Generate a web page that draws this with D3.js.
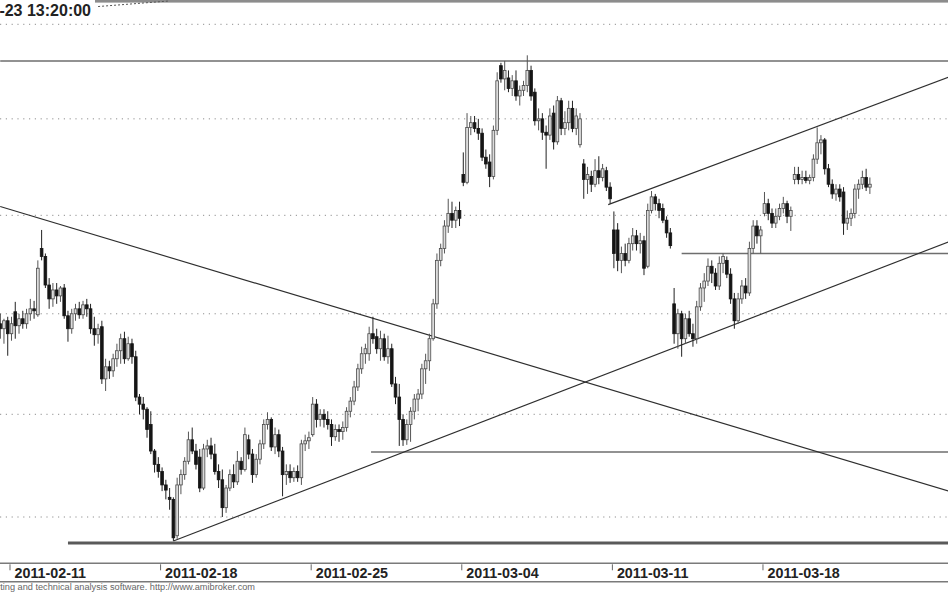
<!DOCTYPE html>
<html><head><meta charset="utf-8">
<script src="https://cdn.jsdelivr.net/npm/d3@7"></script>
<style>html,body{margin:0;padding:0;background:#fff;}svg{display:block}</style>
</head><body>
<script>
// ---------------- data ----------------
const title = "2011-03-23 13:20:00";
const footer = "AmiBroker - charting and technical analysis software. http://www.amibroker.com";
const days = ["2011-02-10","2011-02-11","2011-02-14","2011-02-15","2011-02-16","2011-02-17","2011-02-18",
  "2011-02-21","2011-02-22","2011-02-23","2011-02-24","2011-02-25","2011-02-28","2011-03-01","2011-03-02",
  "2011-03-03","2011-03-04","2011-03-07","2011-03-08","2011-03-09","2011-03-10","2011-03-11","2011-03-14",
  "2011-03-15","2011-03-16","2011-03-17","2011-03-18","2011-03-21","2011-03-22","2011-03-23"];
const tickLabels = ["2011-02-11","2011-02-18","2011-02-25","2011-03-04","2011-03-11","2011-03-18"];
const gridPrices = [46,47,48,49,50,51];
// [open, high, low, close]
const bars = [
[47.90,48.00,47.75,47.85],[47.85,47.95,47.70,47.93],[47.93,47.97,47.58,47.80],[47.80,47.97,47.73,47.90],
[48.02,48.12,47.75,47.88],[47.88,48.00,47.80,47.95],[47.95,48.03,47.85,47.90],[47.90,48.05,47.85,48.00],
[48.00,48.15,47.93,48.05],[48.05,48.13,47.95,48.03],[47.99,48.54,47.97,48.46],[48.66,48.85,48.54,48.58],
[48.58,48.61,48.26,48.29],[48.29,48.36,48.05,48.15],[48.15,48.31,48.07,48.24],[48.24,48.31,48.10,48.18],
[48.18,48.28,48.12,48.26],[48.26,48.30,47.95,47.98],[47.98,48.03,47.72,47.85],[47.85,48.05,47.80,48.00],
[48.00,48.10,47.93,48.05],[48.05,48.12,47.95,47.99],[47.99,48.13,47.95,48.09],[48.09,48.15,47.97,48.05],
[48.05,48.10,47.80,47.85],[47.85,47.97,47.68,47.79],[47.79,47.90,47.70,47.85],[47.87,47.93,47.30,47.35],
[47.35,47.55,47.23,47.47],[47.47,47.53,47.35,47.43],[47.43,47.60,47.37,47.55],[47.55,47.70,47.47,47.63],
[47.63,47.80,47.50,47.75],[47.75,47.82,47.50,47.55],[47.55,47.77,47.53,47.70],[47.70,47.75,47.50,47.57],
[47.57,47.63,47.13,47.17],[47.17,47.20,47.00,47.10],[47.10,47.17,46.95,47.05],[47.05,47.07,46.77,46.85],
[46.90,47.03,46.61,46.64],[46.64,46.66,46.43,46.51],[46.51,46.58,46.38,46.44],[46.44,46.48,46.25,46.31],
[46.31,46.36,46.17,46.26],[46.19,46.28,46.07,46.17],[46.17,46.19,45.77,45.80],[45.82,46.38,45.79,46.31],
[46.31,46.46,46.22,46.41],[46.41,46.58,46.36,46.54],[46.54,46.83,46.51,46.75],[46.75,46.87,46.61,46.64],
[46.64,46.71,46.46,46.51],[46.58,46.66,46.24,46.28],[46.28,46.71,46.26,46.66],[46.66,46.75,46.58,46.69],
[46.69,46.77,46.56,46.61],[46.61,46.71,46.41,46.44],[46.44,46.51,46.28,46.36],[46.36,46.46,46.00,46.09],
[46.09,46.31,46.04,46.28],[46.28,46.46,46.25,46.41],[46.41,46.51,46.28,46.34],[46.34,46.64,46.31,46.54],
[46.54,46.58,46.41,46.46],[46.46,46.87,46.44,46.80],[46.75,46.80,46.56,46.61],[46.61,46.66,46.33,46.41],
[46.41,46.61,46.38,46.56],[46.56,46.75,46.51,46.71],[46.71,46.95,46.66,46.90],[46.90,47.02,46.85,46.95],
[46.95,46.97,46.64,46.68],[46.68,46.87,46.61,46.80],[46.80,46.85,46.58,46.64],[46.64,46.68,46.20,46.41],
[46.41,46.51,46.31,46.44],[46.44,46.51,46.33,46.38],[46.38,46.48,46.34,46.44],[46.44,46.50,46.34,46.38],
[46.38,46.75,46.31,46.71],[46.71,46.80,46.64,46.74],[46.74,46.83,46.66,46.77],[46.80,47.17,46.78,47.10],
[47.10,47.15,46.87,46.95],[46.95,47.05,46.88,47.00],[47.00,47.05,46.87,46.95],[46.95,47.03,46.85,46.90],
[46.90,46.95,46.69,46.78],[46.78,46.90,46.74,46.85],[46.85,46.90,46.73,46.83],[46.83,46.93,46.75,46.87],
[46.87,47.07,46.83,47.03],[47.03,47.17,46.97,47.13],[47.13,47.33,47.09,47.27],[47.27,47.50,47.23,47.45],
[47.45,47.67,47.40,47.60],[47.60,47.70,47.50,47.65],[47.60,47.87,47.53,47.80],[47.80,47.97,47.70,47.75],
[47.77,47.85,47.60,47.65],[47.65,47.83,47.53,47.75],[47.75,47.80,47.53,47.57],[47.57,47.78,47.50,47.65],
[47.65,47.70,47.27,47.30],[47.30,47.37,47.10,47.17],[47.17,47.30,46.69,46.95],[46.95,47.00,46.69,46.75],
[46.75,46.95,46.70,46.90],[46.90,47.07,46.73,47.03],[47.03,47.20,46.95,47.15],[47.15,47.25,47.03,47.20],
[47.20,47.50,47.15,47.45],[47.45,47.60,47.30,47.53],[47.53,47.80,47.43,47.75],[47.75,48.15,47.73,48.10],
[48.10,48.61,48.05,48.54],[48.54,48.71,48.48,48.66],[48.66,48.95,48.61,48.89],[48.89,49.17,48.82,49.02],
[49.02,49.14,48.87,48.95],[48.95,49.09,48.87,49.05],[49.05,49.14,48.89,48.97],[49.42,49.65,49.30,49.34],
[49.34,50.06,49.32,49.91],[49.91,50.03,49.83,49.96],[49.96,50.03,49.86,49.90],[49.90,50.00,49.78,49.85],
[49.85,49.90,49.56,49.60],[49.60,49.68,49.48,49.53],[49.55,49.63,49.29,49.40],[49.40,49.93,49.37,49.88],
[49.88,50.49,49.83,50.40],[50.56,50.59,50.38,50.42],[50.42,50.61,50.30,50.51],[50.43,50.51,50.28,50.32],
[50.32,50.46,50.24,50.40],[50.40,50.51,50.19,50.24],[50.24,50.35,50.14,50.30],[50.30,50.40,50.24,50.35],
[50.35,50.67,50.28,50.51],[50.51,50.56,50.19,50.24],[50.28,50.32,49.93,49.98],[49.98,50.11,49.88,50.00],
[50.00,50.06,49.78,49.86],[49.86,49.93,49.48,49.83],[49.83,50.11,49.78,50.03],[50.06,50.14,49.68,49.76],
[49.76,50.24,49.73,50.19],[50.19,50.22,49.83,49.90],[49.90,50.08,49.83,49.96],[49.96,50.19,49.88,50.11],
[50.11,50.19,49.86,49.90],[49.90,50.11,49.83,50.03],[49.73,50.06,49.70,50.00],[49.53,49.58,49.17,49.37],
[49.37,49.50,49.22,49.42],[49.40,49.46,49.24,49.32],[49.32,49.58,49.29,49.46],[49.46,49.61,49.32,49.39],
[49.39,49.53,49.35,49.48],[49.46,49.50,49.25,49.29],[49.29,49.34,49.12,49.17],[48.85,49.04,48.46,48.61],
[48.85,48.92,48.43,48.54],[48.54,48.68,48.41,48.61],[48.61,48.71,48.48,48.54],[48.54,48.77,48.51,48.71],
[48.71,48.87,48.64,48.79],[48.79,48.85,48.64,48.71],[48.71,48.82,48.61,48.74],[48.74,48.79,48.39,48.46],
[48.48,49.12,48.46,49.05],[49.05,49.25,49.02,49.19],[49.19,49.22,49.05,49.12],[49.12,49.17,48.97,49.05],
[49.07,49.12,48.92,48.95],[48.95,48.99,48.77,48.82],[48.82,48.87,48.66,48.69],[48.10,48.26,47.70,47.80],
[47.80,48.05,47.65,48.00],[48.00,48.03,47.57,47.75],[47.75,48.00,47.70,47.95],[47.95,48.03,47.77,47.80],
[47.80,47.90,47.67,47.75],[47.75,48.13,47.70,48.07],[48.07,48.31,48.03,48.26],[48.26,48.41,48.12,48.33],
[48.33,48.56,48.28,48.48],[48.48,48.54,48.31,48.41],[48.41,48.46,48.24,48.28],[48.28,48.58,48.24,48.51],
[48.51,48.61,48.41,48.58],[48.54,48.58,48.36,48.40],[48.40,48.46,48.10,48.15],[48.15,48.21,47.85,47.93],
[47.93,48.21,47.90,48.15],[48.15,48.34,48.10,48.28],[48.28,48.36,48.15,48.21],[48.21,48.73,48.18,48.66],
[48.66,48.95,48.61,48.89],[48.89,48.95,48.71,48.79],[48.79,48.89,48.61,48.85],[49.02,49.24,48.99,49.12],
[49.12,49.17,48.95,49.02],[49.02,49.07,48.87,48.92],[48.92,49.07,48.87,48.99],[48.99,49.12,48.95,49.07],
[49.07,49.19,49.02,49.12],[49.12,49.15,48.92,48.99],[48.99,49.09,48.84,49.05],[49.37,49.50,49.32,49.42],
[49.42,49.50,49.32,49.37],[49.37,49.46,49.32,49.39],[49.39,49.46,49.33,49.36],[49.36,49.42,49.32,49.39],
[49.39,49.63,49.35,49.58],[49.58,49.91,49.53,49.75],[49.75,49.83,49.63,49.78],[49.78,49.80,49.42,49.48],
[49.48,49.53,49.29,49.32],[49.32,49.37,49.17,49.22],[49.22,49.32,49.15,49.27],[49.27,49.32,49.14,49.19],
[49.24,49.29,48.80,48.92],[48.92,49.05,48.85,48.97],[48.97,49.07,48.89,49.02],[49.02,49.32,48.97,49.27],
[49.27,49.37,49.17,49.32],[49.32,49.46,49.27,49.39],[49.39,49.48,49.25,49.29],[49.29,49.39,49.22,49.32]
];
// horizontal levels: price, starting bar index
const levelPrices = [50.61, 45.75, 46.63, 48.61];
const levelStarts = [0, 18, 98.5, 181];
const levelWidths = [1.6, 2.8, 1.4, 1.4];
// trend lines: [startIndex, startPrice, endIndex, endPrice]
const trendLines = [
  [0, 49.09, 252, 46.25],
  [46, 45.77, 252, 48.73],
  [161.5, 49.11, 252, 50.44]
];
const dottedLine = [26, 51.19, 45, 51.25];

// ---------------- drawing ----------------
const W = 948, H = 593;
const barsPerDay = 8, firstDayBars = 3;
const barDate = i => days[Math.floor((i + barsPerDay - firstDayBars) / barsPerDay)];

const x = d3.scaleLinear().domain([0, 251.8]).range([0.2, 948.2]);
const y = d3.scaleLog().domain([46, 51]).range([517, 24.3]);
const lastIndex = 252;

const svg = d3.select("body").append("svg").attr("width", W).attr("height", H)
  .style("font-family", "'Liberation Sans', Arial, Helvetica, sans-serif");
svg.append("rect").attr("width", W).attr("height", H).attr("fill", "#fff");

svg.append("defs").append("clipPath").attr("id", "plot")
  .append("rect").attr("x", 0).attr("y", 3).attr("width", W).attr("height", 557);

// top border strip
svg.append("rect").attr("x", 95).attr("y", 0).attr("width", W - 95).attr("height", 2.6).attr("fill", "#8c8c8c");

// gridlines
svg.append("g").selectAll("line").data(gridPrices).join("line")
  .attr("x1", 0).attr("x2", W)
  .attr("y1", d => y(d)).attr("y2", d => y(d))
  .attr("stroke", "#8f8f8f").attr("stroke-width", 1)
  .attr("stroke-dasharray", "1.2,4.6");

const plot = svg.append("g").attr("clip-path", "url(#plot)");

// horizontal levels
plot.append("g").selectAll("line").data(levelPrices).join("line")
  .attr("x1", (d, i) => x(levelStarts[i])).attr("x2", x(lastIndex))
  .attr("y1", d => y(d)).attr("y2", d => y(d))
  .attr("stroke", (d, i) => i === 1 ? "#5a5a5a" : "#6e6e6e")
  .attr("stroke-width", (d, i) => levelWidths[i]);

// trend lines
plot.append("g").selectAll("line").data(trendLines).join("line")
  .attr("x1", d => x(d[0])).attr("y1", d => y(d[1]))
  .attr("x2", d => x(d[2])).attr("y2", d => y(d[3]))
  .attr("stroke", "#2e2e2e").attr("stroke-width", 1.15);

// candles
const candles = plot.append("g").selectAll("g").data(bars).join("g");
candles.append("line")
  .attr("x1", (d, i) => x(i)).attr("x2", (d, i) => x(i))
  .attr("y1", d => y(d[1])).attr("y2", d => y(d[2]))
  .attr("stroke", d => d[3] >= d[0] ? "#555" : "#222").attr("stroke-width", 1);
candles.append("rect")
  .attr("x", (d, i) => x(i) - 1.35).attr("width", 2.7)
  .attr("y", d => y(Math.max(d[0], d[3])))
  .attr("height", d => Math.max(1, Math.abs(y(d[0]) - y(d[3]))))
  .attr("fill", d => d[3] >= d[0] ? "#dcdcdc" : "#151515")
  .attr("stroke", d => d[3] >= d[0] ? "#4a4a4a" : "#151515")
  .attr("stroke-width", 0.8);

// dotted line at top
svg.append("line")
  .attr("x1", x(dottedLine[0])).attr("y1", y(dottedLine[1]))
  .attr("x2", x(dottedLine[2])).attr("y2", y(dottedLine[3]))
  .attr("stroke", "#555").attr("stroke-width", 1).attr("stroke-dasharray", "2,2");

// title (cut at left edge, as in the reference)
svg.append("text").attr("x", 91).attr("y", 16).attr("text-anchor", "end")
  .attr("font-size", 16).attr("font-weight", "bold").attr("fill", "#222").text(title);

// x axis box
const axisTop = 563.3, axisBottom = 581.7;
svg.append("line").attr("x1", 0).attr("x2", W).attr("y1", axisTop).attr("y2", axisTop)
  .attr("stroke", "#7a7a7a").attr("stroke-width", 1.6);
svg.append("line").attr("x1", 0).attr("x2", W).attr("y1", axisBottom).attr("y2", axisBottom)
  .attr("stroke", "#7a7a7a").attr("stroke-width", 1.6);

const tickIdx = tickLabels.map(lbl => bars.findIndex((b, i) => barDate(i) === lbl));
const ticks = svg.append("g").selectAll("g").data(tickLabels).join("g")
  .attr("transform", (d, k) => `translate(${x(tickIdx[k]) - 1.5},0)`);
ticks.append("line").attr("y1", axisTop + 1).attr("y2", axisTop + 7)
  .attr("stroke", "#666").attr("stroke-width", 1);
ticks.append("text").attr("x", 4.5).attr("y", 577.5)
  .attr("font-size", 14.3).attr("font-weight", "bold").attr("fill", "#222").text(d => d);

// footer (cut at left edge, as in the reference)
svg.append("text").attr("x", 255).attr("y", 590).attr("text-anchor", "end")
  .attr("font-size", 9.2).attr("fill", "#666").text(footer);
</script>
</body></html>
